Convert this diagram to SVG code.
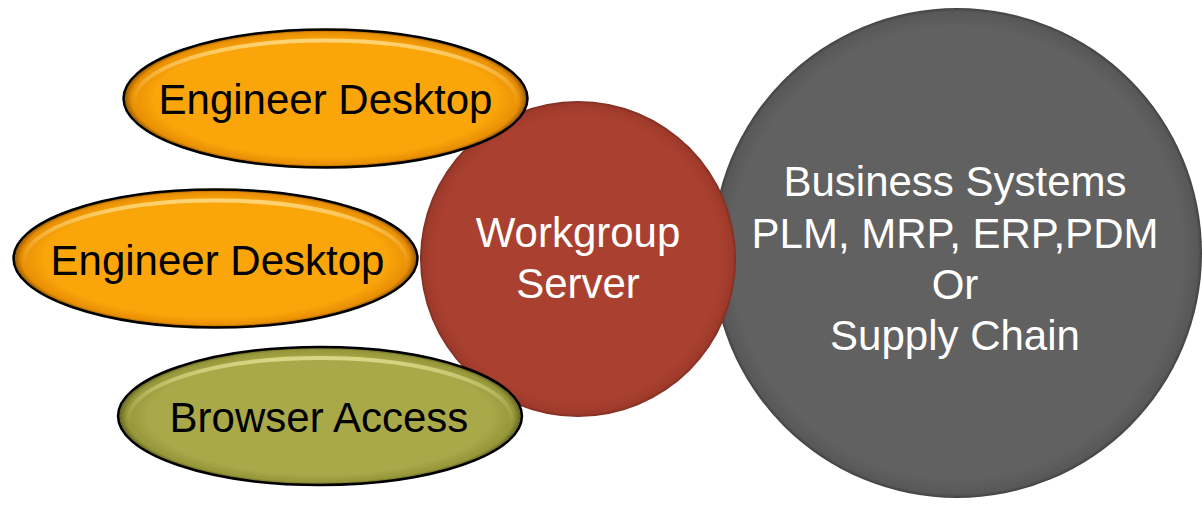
<svg xmlns="http://www.w3.org/2000/svg" width="1202" height="507" viewBox="0 0 1202 507">
<defs>
<style>
.lbl{font-family:"Liberation Sans",Arial,sans-serif;font-size:42px;text-anchor:middle}
.dark{fill:#000}
.light{fill:#fff}
.ell{stroke:#000;stroke-width:2.5}
.hl{fill:none;stroke-width:4}
</style>
<radialGradient id="gOrange" cx="0.5" cy="0.5" r="0.5">
<stop offset="0.85" stop-color="#FAA50A"/>
<stop offset="0.96" stop-color="#E98F04"/>
<stop offset="1" stop-color="#8A5300"/>
</radialGradient>
<radialGradient id="gOlive" cx="0.5" cy="0.5" r="0.5">
<stop offset="0.85" stop-color="#A9A94A"/>
<stop offset="0.96" stop-color="#96963A"/>
<stop offset="1" stop-color="#5C5C1E"/>
</radialGradient>
<radialGradient id="gRed" cx="0.5" cy="0.5" r="0.5">
<stop offset="0.9" stop-color="#AA4130"/>
<stop offset="0.98" stop-color="#9E3A2B"/>
<stop offset="1" stop-color="#7E2C20"/>
</radialGradient>
<radialGradient id="gGray" cx="0.5" cy="0.5" r="0.5">
<stop offset="0.92" stop-color="#616161"/>
<stop offset="0.985" stop-color="#585858"/>
<stop offset="1" stop-color="#404040"/>
</radialGradient>
<linearGradient id="hlOrange" x1="0" y1="0" x2="0" y2="1">
<stop offset="0" stop-color="#FFD980" stop-opacity="0.9"/>
<stop offset="0.35" stop-color="#FFD980" stop-opacity="0.3"/>
<stop offset="0.55" stop-color="#FFD980" stop-opacity="0"/>
</linearGradient>
<linearGradient id="hlOlive" x1="0" y1="0" x2="0" y2="1">
<stop offset="0" stop-color="#DCDC8C" stop-opacity="0.9"/>
<stop offset="0.35" stop-color="#DCDC8C" stop-opacity="0.3"/>
<stop offset="0.55" stop-color="#DCDC8C" stop-opacity="0"/>
</linearGradient>
</defs>
<rect width="1202" height="507" fill="#fff"/>
<g id="connectors"></g>
<g id="business-systems">
<circle cx="957" cy="253" r="245" fill="url(#gGray)"/>
<text class="lbl light" x="955" y="196">Business Systems</text>
<text class="lbl light" x="955" y="248">PLM, MRP, ERP,PDM</text>
<text class="lbl light" x="955" y="299">Or</text>
<text class="lbl light" x="955" y="350">Supply Chain</text>
</g>
<g id="workgroup-server">
<circle cx="578" cy="259" r="158" fill="url(#gRed)"/>
<text class="lbl light" x="578" y="247">Workgroup</text>
<text class="lbl light" x="578" y="298">Server</text>
</g>
<g id="engineer-desktop-1">
<ellipse class="ell" cx="325.5" cy="98.5" rx="202" ry="69" fill="url(#gOrange)"/>
<ellipse class="hl" cx="325.5" cy="100.5" rx="191" ry="60" stroke="url(#hlOrange)"/>
<text class="lbl dark" x="325.5" y="114">Engineer Desktop</text>
</g>
<g id="engineer-desktop-2">
<ellipse class="ell" cx="215.5" cy="258.5" rx="202" ry="69" fill="url(#gOrange)"/>
<ellipse class="hl" cx="215.5" cy="260.5" rx="191" ry="60" stroke="url(#hlOrange)"/>
<text class="lbl dark" x="217.5" y="275">Engineer Desktop</text>
</g>
<g id="browser-access">
<ellipse class="ell" cx="320" cy="416" rx="202" ry="69" fill="url(#gOlive)"/>
<ellipse class="hl" cx="320" cy="418" rx="191" ry="60" stroke="url(#hlOlive)"/>
<text class="lbl dark" x="319" y="432">Browser Access</text>
</g>
</svg>
